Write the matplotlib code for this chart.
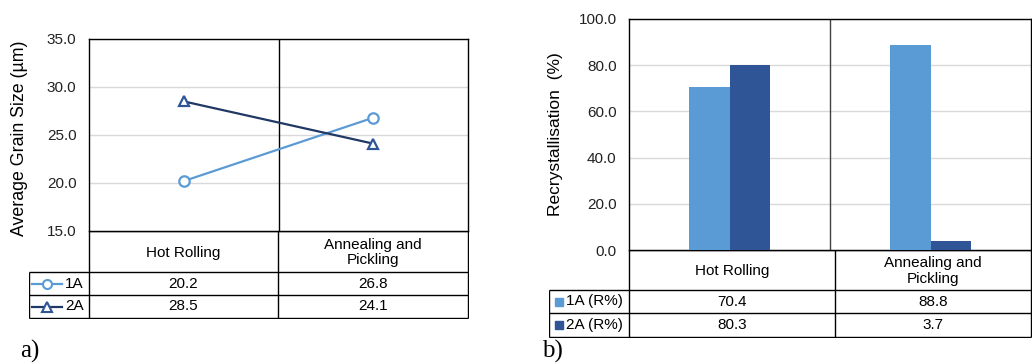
import matplotlib
matplotlib.use("Agg")
import matplotlib.pyplot as plt
from matplotlib.lines import Line2D
from matplotlib.patches import Rectangle

plt.rcParams["font.family"] = ["Liberation Sans", "DejaVu Sans"]

stages = ["Hot Rolling", "Annealing and\nPickling"]
grain_1a = [20.2, 26.8]
grain_2a = [28.5, 24.1]
recryst_1a = [70.4, 88.8]
recryst_2a = [80.3, 3.7]
grain_labels = ["1A", "2A"]
recryst_labels = ["1A (R%)", "2A (R%)"]

LIGHT = "#5B9BD5"
DARK = "#2F5597"
NAVY = "#203864"
GRID = "#D9D9D9"
FS = 11

W, H = 1032, 364
fig = plt.figure(figsize=(W / 100, H / 100), dpi=100)


def box(l, t, r, b):
    return [l / W, 1 - b / H, (r - l) / W, (b - t) / H]


def draw_table(l_lab, l, mid, r, top, hdr, row1, row2, values, labels, keys):
    ax = fig.add_axes(box(l_lab, top, r + 1, row2 + 1))
    ax.set_xlim(l_lab, r + 1)
    ax.set_ylim(row2 + 1, top)
    ax.axis("off")
    k = dict(color="black", lw=1.0, solid_capstyle="butt")
    for x in (l, mid, r):
        ax.plot([x, x], [top, row2], **k)
    ax.plot([l_lab, l_lab], [hdr, row2], **k)
    ax.plot([l, r], [top, top], **k)
    for y in (hdr, row1, row2):
        ax.plot([l_lab, r], [y, y], **k)
    centers = [(l + mid) / 2, (mid + r) / 2]
    for cx, s in zip(centers, stages):
        ax.text(cx, (top + hdr) / 2 + 1, s, ha="center", va="center", fontsize=FS,
                linespacing=1.15)
    rows = [(hdr, row1), (row1, row2)]
    for i, (vals, lab) in enumerate(zip(values, labels)):
        y0, y1 = rows[i]
        cy = (y0 + y1) / 2
        for cx, v in zip(centers, vals):
            ax.text(cx, cy, f"{v:.1f}", ha="center", va="center", fontsize=FS)
        keys(ax, i, cy, lab)
    return ax


# ---------------- panel a ----------------
axa = fig.add_axes(box(89, 39, 468, 231))
x = range(len(stages))
axa.plot(x, grain_1a, color=LIGHT, lw=1.6, marker="o", ms=7.5, mfc="white",
         mec=LIGHT, mew=1.6, zorder=3)
axa.plot(x, grain_2a, color=NAVY, lw=1.6, marker="^", ms=7.5, mfc="white",
         mec=DARK, mew=1.6, zorder=3)
axa.set_xlim(-0.5, 1.5)
axa.set_ylim(15, 35)
yt_a = [15, 20, 25, 30, 35]
axa.set_yticks(yt_a)
axa.set_yticklabels([f"{v:.1f}" for v in yt_a], fontsize=FS, color="#222222")
axa.set_xticks([])
axa.tick_params(axis="y", length=0, pad=9)
axa.grid(axis="y", color=GRID, lw=1.0)
axa.set_axisbelow(True)
axa.axvline(0.5, color="black", lw=1.0)
for s in axa.spines.values():
    s.set_color("black")
    s.set_linewidth(1.0)
axa.set_ylabel("Average Grain Size (µm)", fontsize=12.8)
axa.yaxis.set_label_coords(-0.161, 0.485)


def keys_a(ax, i, cy, lab):
    col = LIGHT if i == 0 else NAVY
    mec = LIGHT if i == 0 else DARK
    mk = "o" if i == 0 else "^"
    ax.add_line(Line2D([32, 62], [cy, cy], color=col, lw=1.6))
    ax.add_line(Line2D([47], [cy], marker=mk, ms=6.5, mfc="white", mec=mec, mew=1.5,
                       color=col))
    ax.text(65, cy, lab, ha="left", va="center", fontsize=FS)


draw_table(29, 89, 278, 468, 231, 272, 295, 318, [grain_1a, grain_2a], grain_labels, keys_a)

# ---------------- panel b ----------------
axb = fig.add_axes(box(629, 19, 1031, 250))
bw = 0.2
xs = list(range(len(stages)))
axb.bar([v - bw / 2 for v in xs], recryst_1a, width=bw, color=LIGHT, zorder=3)
axb.bar([v + bw / 2 for v in xs], recryst_2a, width=bw, color=DARK, zorder=3)
axb.set_xlim(-0.5, 1.5)
axb.set_ylim(0, 100)
yt_b = [0, 20, 40, 60, 80, 100]
axb.set_yticks(yt_b)
axb.set_yticklabels([f"{v:.1f}" for v in yt_b], fontsize=FS, color="#222222")
axb.set_xticks([])
axb.tick_params(axis="y", length=0, pad=9)
axb.grid(axis="y", color=GRID, lw=1.0)
axb.set_axisbelow(True)
axb.axvline(0.5, color="#404040", lw=1.0)
for s in axb.spines.values():
    s.set_color("black")
    s.set_linewidth(1.0)
axb.set_ylabel("Recrystallisation  (%)", fontsize=12.5)
axb.yaxis.set_label_coords(-0.164, 0.5)


def keys_b(ax, i, cy, lab):
    col = LIGHT if i == 0 else DARK
    ax.add_patch(Rectangle((555, cy - 4), 8, 8, color=col))
    ax.text(566, cy, lab, ha="left", va="center", fontsize=FS)


draw_table(549, 629, 835, 1031, 250, 290, 313, 337, [recryst_1a, recryst_2a], recryst_labels, keys_b)

fig.text(20 / W, 1 - 351 / H, "a)", fontsize=18, family="Liberation Serif", va="center")
fig.text(542 / W, 1 - 351 / H, "b)", fontsize=18, family="Liberation Serif", va="center")

fig.savefig("out.png", dpi=100)
